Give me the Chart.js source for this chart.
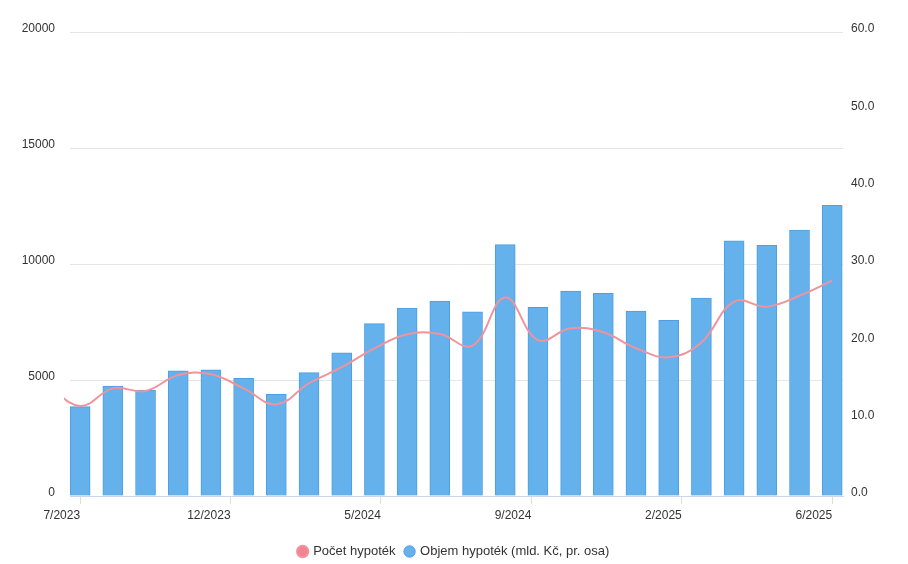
<!DOCTYPE html>
<html>
<head>
<meta charset="utf-8">
<script src="https://cdn.jsdelivr.net/npm/chart.js@4.4.0/dist/chart.umd.min.js"></script>
<style>
  html, body { margin: 0; padding: 0; background: #fff; }
  #wrap { width: 908px; height: 564px; }
</style>
</head>
<body>
<div id="wrap"><canvas id="chart" width="908" height="564"></canvas></div>
<script>
// Months shown as bars (7/2023 .. 6/2025)
const months = ['7/2023','8/2023','9/2023','10/2023','11/2023','12/2023',
  '1/2024','2/2024','3/2024','4/2024','5/2024','6/2024','7/2024','8/2024',
  '9/2024','10/2024','11/2024','12/2024','1/2025','2/2025','3/2025','4/2025',
  '5/2025','6/2025'];

// Počet hypoték (left axis) - 6/2023 value only peeks in at the left edge
const countJune2023 = 4800;
const counts = [3880, 4640, 4525, 5215, 5245, 4640, 3950, 4860, 5550, 6360,
  6970, 6980, 6480, 8560, 6720, 7230, 7060, 6370, 5980, 6620, 8380, 8160,
  8630, 9280];

// Objem hypoték in mld. Kč (right axis)
const volumes = [11.55, 14.2, 13.7, 16.2, 16.3, 15.2, 13.15, 15.95, 18.5, 22.3,
  24.3, 25.2, 23.8, 32.5, 24.4, 26.5, 26.2, 23.9, 22.7, 25.6, 33.0, 32.4,
  34.4, 37.6];

// labels of the x axis ticks (spread evenly over the range)
const xTickLabels = ['7/2023', '12/2023', '5/2024', '9/2024', '2/2025', '6/2025'];
const leftTicks = [0, 5000, 10000, 15000, 20000];
const rightTicks = [0, 10, 20, 30, 40, 50, 60];

const font = { family: '"Liberation Sans", Arial, sans-serif', size: 12 };
const last = months.length - 1;

const lineData = [{ x: -1, y: countJune2023 }].concat(counts.map((v, i) => ({ x: i, y: v })));
const barData = volumes.map((v, i) => ({ x: i, y: v }));

Chart.defaults.font = font;
Chart.defaults.color = '#333';

const ctx = document.getElementById('chart').getContext('2d');
new Chart(ctx, {
  data: {
    datasets: [{
      type: 'line',
      label: 'Počet hypoték',
      data: lineData,
      yAxisID: 'yL',
      borderColor: '#f1939c',
      backgroundColor: '#f08490',
      borderWidth: 2,
      pointRadius: 0,
      tension: 0.4,
      clip: { left: 6, top: 5, right: 5, bottom: 5 }
    }, {
      type: 'bar',
      label: 'Objem hypoték (mld. Kč, pr. osa)',
      data: barData,
      yAxisID: 'yR',
      backgroundColor: '#64b1ec',
      borderColor: '#4c9fe4',
      borderWidth: 1,
      barThickness: 20
    }]
  },
  options: {
    responsive: false,
    animation: false,
    layout: { padding: { top: 32, left: 0, right: 0, bottom: -4 } },
    plugins: {
      tooltip: { enabled: false },
      legend: {
        position: 'bottom',
        labels: {
          usePointStyle: true,
          pointStyle: 'circle',
          boxWidth: 8,
          boxHeight: 8,
          padding: 10,
          font: { family: font.family, size: 13 },
          color: '#333'
        }
      }
    },
    scales: {
      x: {
        type: 'linear',
        offset: false,
        min: -0.31,
        max: last + 0.33,
        afterBuildTicks: (scale) => {
          scale.ticks = xTickLabels.map((l, i) => ({ value: i * last / (xTickLabels.length - 1) }));
        },
        afterFit: (scale) => { scale.height = 39; },
        ticks: {
          callback: (v, i) => xTickLabels[i],
          align: 'end',
          padding: 4,
          maxRotation: 0,
          autoSkip: false,
          color: '#333',
          font: { family: font.family, size: 12 }
        },
        grid: { offset: false, drawOnChartArea: false, drawTicks: true, tickLength: 8, color: '#eed9c6' },
        border: { display: true, color: '#ccd6eb' }
      },
      yL: {
        position: 'left',
        min: 0,
        max: 20000,
        afterBuildTicks: (scale) => { scale.ticks = leftTicks.map(v => ({ value: v })); },
        afterFit: (scale) => { scale.width = 70; },
        ticks: { padding: 15, labelOffset: -3, color: '#333', callback: v => String(v) },
        grid: { color: '#e6e6e6', drawTicks: false },
        border: { display: false }
      },
      yR: {
        position: 'right',
        min: 0,
        max: 60,
        afterBuildTicks: (scale) => { scale.ticks = rightTicks.map(v => ({ value: v })); },
        afterFit: (scale) => { scale.width = 65; },
        ticks: { padding: 8, labelOffset: -3, color: '#333', callback: v => v.toFixed(1) },
        grid: { drawOnChartArea: false, drawTicks: false },
        border: { display: false }
      }
    }
  }
});
</script>
</body>
</html>
